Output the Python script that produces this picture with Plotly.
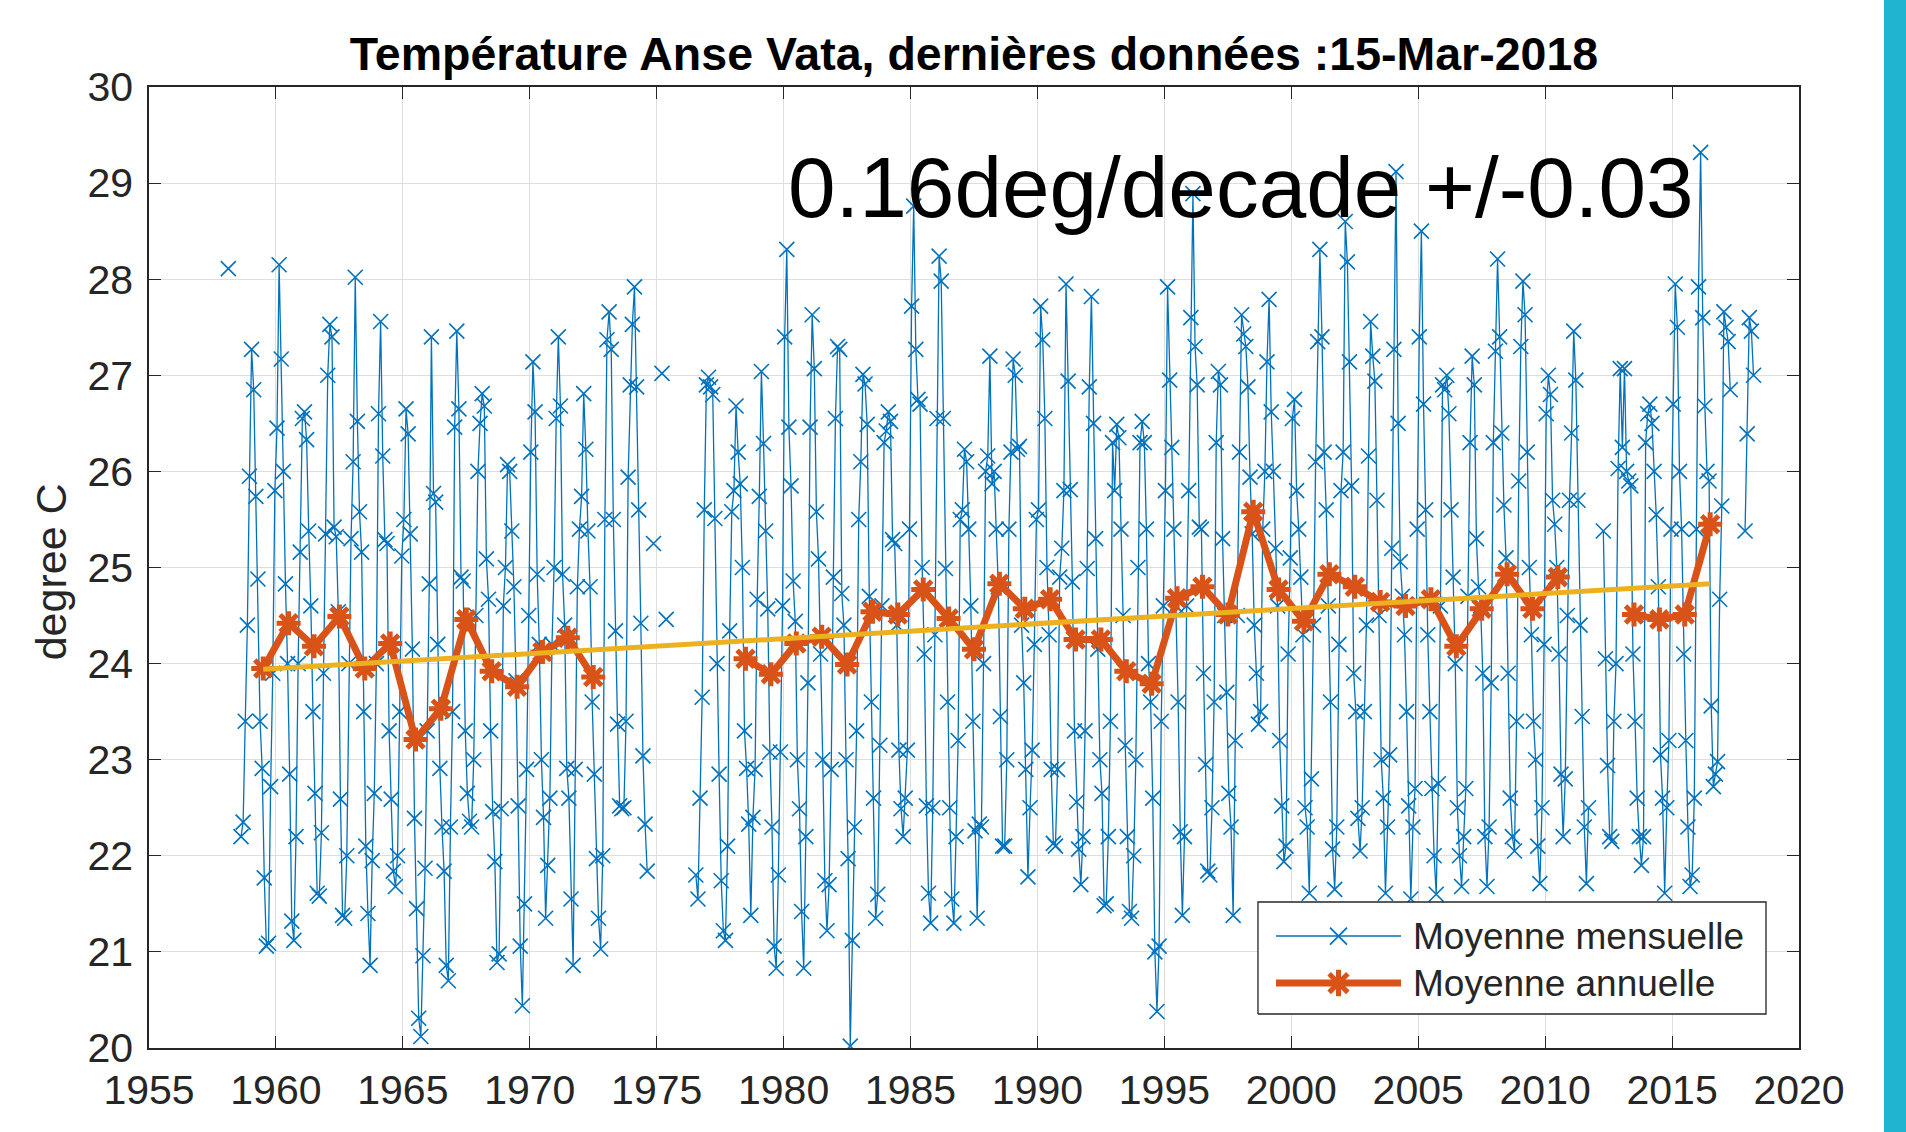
import plotly.graph_objects as go

# ---------------- data (monthly means, Jan..Dec, None = missing) ----------------
start_1958 = 1958
temp_1958_1959 = [
    None, 28.11, None, None, None, None, None, 22.2, 22.35, 23.4, 24.4, 25.95,
    27.27, 26.85, 25.74, 24.88, 23.4, 22.91, 21.77, 21.06, 21.09, 22.72, 23.9, 25.8,
]
start_1960 = 1960
temp_1960s = [
    26.45, 28.15, 27.17, 26.0, 24.83, 24.0, 22.85, 21.32, 21.12, 22.2, 24.0, 25.16,
    26.55, 26.62, 26.33, 25.38, 24.6, 23.5, 22.65, 21.61, 21.58, 22.24, 23.9, 25.35,
    27.0, 27.53, 27.4, 25.42, 25.32, 24.54, 22.59, 21.38, 21.35, 22.0, 24.0, 25.3,
    26.1, 28.02, 26.52, 25.58, 25.16, 23.5, 22.1, 21.4, 20.86, 21.95, 22.65, 24.0,
    26.6, 27.56, 26.16, 25.29, 25.25, 23.3, 22.59, 21.84, 21.68, 22.0, 23.5, 25.12,
    25.5, 26.65, 26.39, 25.35, 24.15, 22.39, 21.45, 20.31, 20.12, 20.96, 21.87, 23.3,
    24.83, 27.4, 25.77, 25.68, 24.2, 22.91, 22.3, 21.84, 20.86, 20.7, 22.3, 23.5,
    26.46, 27.46, 26.65, 24.9, 24.86, 23.3, 22.65, 22.36, 22.3, 23.0, 24.5, 26.0,
    26.5, 26.81, 26.68, 25.09, 24.67, 23.3, 22.46, 21.94, 20.89, 20.98, 22.49, 24.6,
    25.0, 26.07, 26.0, 25.38, 24.8, 23.82, 22.52, 21.06, 20.44, 21.5, 22.9, 24.5,
]
start_1970 = 1970
temp_1970s = [
    26.2, 27.14, 26.62, 24.93, 24.2, 23.0, 22.4, 21.35, 21.9, 22.6, 24.2, 25.0,
    26.55, 27.4, 26.68, 24.93, 24.4, 22.91, 22.6, 21.55, 20.86, 22.9, 24.8, 25.4,
    25.74, 26.81, 26.23, 25.38, 24.8, 23.6, 22.85, 21.97, 21.35, 21.03, 22.0, 25.5,
    27.37, 27.66, 27.27, 25.5, 24.34, 23.37, 22.52, 22.49, 22.5, 23.4, 25.94, 26.9,
    27.53, 27.92, 26.88, 25.6, 24.42, 23.04, 22.33, 21.84, None, None, 25.25, None,
    None, None, 27.02, None, 24.46, None, None, None, None, None, None, None,
    None, None, None, None, None, None, 21.8, 21.55, 22.6, 23.65, 25.6, 26.9,
    26.98, 26.88, 26.8, 25.51, 24.0, 22.85, 21.74, 21.22, 21.12, 22.1, 24.34, 25.58,
    25.8, 26.68, 26.2, 25.87, 25.0, 23.3, 22.91, 22.33, 21.38, 22.4, 22.9, 24.67,
    25.74, 27.04, 26.29, 25.38, 24.57, 23.08, 22.3, 21.06, 20.83, 21.8, 23.08, 24.6,
]
start_1980 = 1980
temp_1980s = [
    27.4, 28.31, 26.46, 25.85, 24.86, 24.44, 23.0, 22.49, 21.42, 20.83, 22.2, 23.8,
    26.46, 27.63, 27.07, 25.58, 25.09, 24.1, 23.0, 21.74, 21.22, 21.7, 22.9, 24.9,
    26.55, 27.3, 27.27, 24.73, 24.4, 23.0, 21.97, 20.02, 21.12, 22.3, 23.3, 25.5,
    26.1, 27.01, 26.91, 26.49, 24.7, 23.6, 22.6, 21.35, 21.6, 23.15, 24.6, 26.3,
    26.42, 26.62, 26.52, 25.29, 25.25, 24.4, 23.1, 22.49, 22.2, 22.6, 23.1, 25.4,
    27.72, 28.76, 27.27, 26.75, 26.7, 25.0, 24.1, 22.52, 21.61, 21.3, 22.5, 24.3,
    26.55, 28.24, 27.98, 26.55, 24.99, 23.6, 22.5, 21.55, 21.3, 22.2, 23.2, 25.5,
    25.6, 26.23, 26.1, 25.4, 24.6, 23.4, 22.26, 21.35, 22.33, 22.3, 24.0, 26.0,
    26.16, 27.2, 25.87, 26.0, 25.4, 24.8, 23.45, 22.1, 22.1, 23.0, 25.4, 26.2,
    27.17, 27.0, 26.23, 26.26, 24.4, 23.8, 22.9, 21.78, 22.5, 23.1, 24.2, 25.5,
]
start_1990 = 1990
temp_1990s = [
    25.6, 27.72, 27.37, 26.55, 25.0, 24.3, 22.9, 22.13, 22.1, 22.9, 24.9, 25.2,
    25.8, 27.95, 26.94, 25.81, 24.85, 23.3, 22.56, 22.07, 21.7, 22.2, 23.3, 24.99,
    26.88, 27.82, 26.5, 25.3, 24.15, 23.0, 22.65, 21.48, 21.5, 22.2, 23.4, 26.3,
    25.8, 26.49, 26.35, 25.4, 24.5, 23.15, 22.2, 21.42, 21.35, 22.0, 23.0, 25.0,
    26.3, 26.52, 26.3, 25.4, 24.0, 23.6, 22.6, 21.0, 20.38, 21.06, 23.4, 24.6,
    25.8, 27.92, 26.95, 26.25, 25.4, 24.6, 23.6, 22.25, 21.38, 22.2, 24.6, 25.8,
    27.6, 28.89, 27.3, 26.9, 25.42, 25.4, 23.9, 22.95, 21.84, 21.8, 22.5, 23.6,
    26.3, 27.04, 26.9, 25.3, 24.5, 23.7, 22.65, 22.3, 21.38, 23.2, 24.5, 26.2,
    27.63, 27.43, 27.3, 26.88, 25.94, 25.35, 24.4, 23.9, 23.37, 23.5, 25.4, 26.0,
    27.14, 27.79, 26.62, 26.0, 25.2, 24.6, 23.2, 22.52, 21.94, 22.1, 24.1, 25.1,
]
start_2000 = 2000
temp_2000s = [
    26.55, 26.75, 25.8, 25.4, 24.9, 24.3, 22.5, 22.3, 21.61, 22.8, 24.4, 26.1,
    27.35, 28.31, 27.4, 26.2, 25.6, 24.6, 23.6, 22.07, 21.65, 22.3, 24.2, 25.8,
    26.2, 28.6, 28.18, 27.14, 25.85, 23.9, 23.5, 22.39, 22.05, 22.5, 23.5, 24.4,
    26.16, 27.56, 27.2, 26.94, 25.7, 24.5, 23.0, 22.6, 21.61, 22.3, 23.05, 25.2,
    27.27, 29.12, 26.5, 25.06, 24.7, 24.3, 23.5, 22.52, 21.55, 22.3, 22.7, 25.4,
    27.4, 28.5, 26.7, 25.6, 24.3, 23.5, 22.7, 22.0, 21.6, 22.75, 24.6, 26.9,
    26.85, 27.0, 26.6, 25.6, 24.9, 24.0, 22.5, 22.0, 21.68, 22.2, 22.7, 24.7,
    26.3, 27.2, 26.9, 25.3, 24.8, 24.6, 23.9, 22.2, 21.68, 22.3, 23.8, 26.3,
    27.25, 28.21, 27.4, 26.4, 25.65, 25.1, 23.9, 22.6, 22.2, 22.05, 23.4, 25.9,
    27.3, 27.98, 27.63, 26.2, 25.0, 24.3, 23.4, 23.0, 22.1, 21.71, 22.5, 24.2,
]
start_2010 = 2010
temp_2010s = [
    26.6, 27.0, 26.8, 25.7, 25.45, 25.0, 24.1, 22.85, 22.2, 22.8, 24.5, 25.7,
    26.4, 27.46, 26.95, 25.7, 24.4, 23.45, 22.3, 21.71, 22.5, None, None, None,
    None, None, None, 25.38, 24.05, 22.94, 22.2, 22.15, 23.4, 24.0, 26.03, 27.07,
    26.25, 27.07, 26.0, 25.9, 25.85, 24.1, 23.4, 22.6, 22.2, 21.9, 22.2, 26.3,
    26.6, 26.7, 26.5, 26.0, 25.55, 24.8, 23.05, 22.6, 21.61, 22.5, 23.2, 25.4,
    26.7, 27.95, 27.5, 26.0, 25.4, 24.1, 23.2, 22.3, 21.68, 21.8, 22.6, 25.4,
    27.92, 29.32, 27.6, 26.68, 26.0, 25.9, 23.56, 22.72, 22.85, 22.98, 24.67, 25.64,
    27.66, 27.5, 27.35, 26.85, None, None, None, None, None, None, 25.38, 26.39,
    27.6, 27.46, 27.0,
]

# annual means (plotted at mid-year), None = incomplete year
annual_years = list(range(1959, 2017))
annual_means = [
    23.95, 24.42, 24.18, 24.49, 23.95, 24.21, 23.21, 23.53, 24.46, 23.92, 23.76, 24.12, 24.27, 23.86,
    None, None, None, None, None,
    24.05, 23.89, 24.21, 24.28, 23.99, 24.54, 24.51, 24.77, 24.47, 24.15, 24.83, 24.57, 24.67,
    24.25, 24.25, 23.92, 23.79, 24.68, 24.80, 24.51, 25.58, 24.77, 24.44, 24.93, 24.80, 24.64,
    24.60, 24.67, 24.18, 24.57, 24.93, 24.57, 24.90,
    None, None,
    24.51, 24.46, 24.51, 25.45,
]

# linear trend end points
trend_years = [1959.5, 2016.5]
trend_values = [23.94, 24.83]

x_ticks = list(range(1955, 2021, 5))
y_ticks = list(range(20, 31))

title_text = "Température Anse Vata, dernières données :15-Mar-2018"
slope_text = "0.16deg/decade +/-0.03"
legend_labels = ["Moyenne mensuelle", "Moyenne annuelle"]

# ---------------- build ----------------
segments = [
    (start_1958, temp_1958_1959), (start_1960, temp_1960s), (start_1970, temp_1970s),
    (start_1980, temp_1980s), (start_1990, temp_1990s), (start_2000, temp_2000s),
    (start_2010, temp_2010s),
]
mx, my = [], []
for start, vals in segments:
    for i, v in enumerate(vals):
        mx.append(start + (i + 0.5) / 12.0)
        my.append(v)

ax_x = [y + 0.5 for y in annual_years]

BLUE = "#0072BD"
ORANGE = "#D95319"
YELLOW = "#EDB120"
AXC = "#262626"
FONT = "Liberation Sans, Arial, Helvetica, sans-serif"

fig = go.Figure()
fig.add_trace(go.Scatter(
    x=mx, y=my, mode="lines+markers", connectgaps=False,
    line=dict(color=BLUE, width=1.3),
    marker=dict(symbol="x-thin", size=15, line=dict(width=1.6, color=BLUE), color=BLUE),
    showlegend=False,
))
fig.add_trace(go.Scatter(
    x=ax_x, y=annual_means, mode="lines+markers", connectgaps=False,
    line=dict(color=ORANGE, width=7),
    marker=dict(symbol="asterisk", size=20, line=dict(width=5, color=ORANGE), color=ORANGE),
    showlegend=False,
))
fig.add_trace(go.Scatter(
    x=trend_years, y=trend_values, mode="lines",
    line=dict(color=YELLOW, width=5), showlegend=False,
))

# ---- hand-drawn legend on an overlay axis spanning the plot area (0..1) ----
bx0, bx1, by0, by1 = 0.6721, 0.9800, 0.0354, 0.1519
lx0, lx1 = 0.683, 0.7588
lmid = (lx0 + lx1) / 2
rows = [0.1165, 0.0676]
tx = 0.7650

fig.add_trace(go.Scatter(
    x=[bx0, bx1, bx1, bx0, bx0], y=[by0, by0, by1, by1, by0],
    xaxis="x2", yaxis="y2", mode="lines", fill="toself", fillcolor="white",
    line=dict(color=AXC, width=1.3), showlegend=False, hoverinfo="skip",
))
fig.add_trace(go.Scatter(
    x=[lx0, lx1], y=[rows[0], rows[0]], xaxis="x2", yaxis="y2", mode="lines",
    line=dict(color=BLUE, width=1.6), showlegend=False, hoverinfo="skip",
))
fig.add_trace(go.Scatter(
    x=[lmid], y=[rows[0]], xaxis="x2", yaxis="y2", mode="markers",
    marker=dict(symbol="x-thin", size=17, line=dict(width=1.8, color=BLUE)),
    showlegend=False, hoverinfo="skip",
))
fig.add_trace(go.Scatter(
    x=[lx0, lx1], y=[rows[1], rows[1]], xaxis="x2", yaxis="y2", mode="lines",
    line=dict(color=ORANGE, width=7), showlegend=False, hoverinfo="skip",
))
fig.add_trace(go.Scatter(
    x=[lmid], y=[rows[1]], xaxis="x2", yaxis="y2", mode="markers",
    marker=dict(symbol="asterisk", size=22, line=dict(width=5, color=ORANGE), color=ORANGE),
    showlegend=False, hoverinfo="skip",
))

annotations = []
for lab, ry in zip(legend_labels, rows):
    annotations.append(dict(
        x=tx, y=ry, xref="paper", yref="paper", xanchor="left", yanchor="middle",
        text=lab, showarrow=False, font=dict(family=FONT, size=37, color=AXC),
    ))
annotations.append(dict(
    x=1980.1, y=28.95, xref="x", yref="y", xanchor="left", yanchor="middle",
    text=slope_text, showarrow=False, font=dict(family=FONT, size=85.5, color="black"),
))
annotations.append(dict(
    x=-0.0594, y=0.496, xref="paper", yref="paper", xanchor="center", yanchor="middle",
    text="degree C", textangle=-90, showarrow=False,
    font=dict(family=FONT, size=43, color=AXC),
))
annotations.append(dict(
    x=0.5, y=-0.077, xref="paper", yref="paper", xanchor="center", yanchor="top",
    text="Date", showarrow=False, font=dict(family=FONT, size=43, color=AXC),
))

axis_common = dict(
    showline=True, linecolor=AXC, linewidth=1.5, mirror="ticks",
    ticks="inside", ticklen=12, tickwidth=1.3, tickcolor=AXC,
    showgrid=True, gridcolor="#dedede", gridwidth=1, zeroline=False,
    automargin=False,
    tickfont=dict(family=FONT, size=41, color=AXC),
)

fig.update_layout(
    width=1906, height=1132,
    margin=dict(l=149, r=107, t=87, b=84, autoexpand=False),
    paper_bgcolor="white", plot_bgcolor="white",
    title=dict(
        text="<b>" + title_text + "</b>", x=0.5, xref="paper", xanchor="center",
        y=1 - 54 / 1132, yref="container", yanchor="middle",
        font=dict(family=FONT, size=46.5, color="black"),
    ),
    xaxis=dict(range=[1955, 2020], tickvals=x_ticks, ticklabelstandoff=5, **axis_common),
    yaxis=dict(range=[20, 30], tickvals=y_ticks, ticklabelstandoff=6, **axis_common),
    xaxis2=dict(overlaying="x", range=[0, 1], visible=False, fixedrange=True),
    yaxis2=dict(overlaying="y", range=[0, 1], visible=False, fixedrange=True),
    annotations=annotations,
    shapes=[dict(
        type="rect", xref="paper", yref="paper",
        x0=(1884 - 149) / 1650, x1=(1920 - 149) / 1650,
        y0=-0.2, y1=1.2, fillcolor="#1FB4CF", line=dict(width=0), layer="above",
    )],
    showlegend=False,
)

fig.write_html(
    "out.html",
    config={"displayModeBar": False},
    post_script="document.body.style.margin='0';document.body.style.overflow='hidden';",
)
